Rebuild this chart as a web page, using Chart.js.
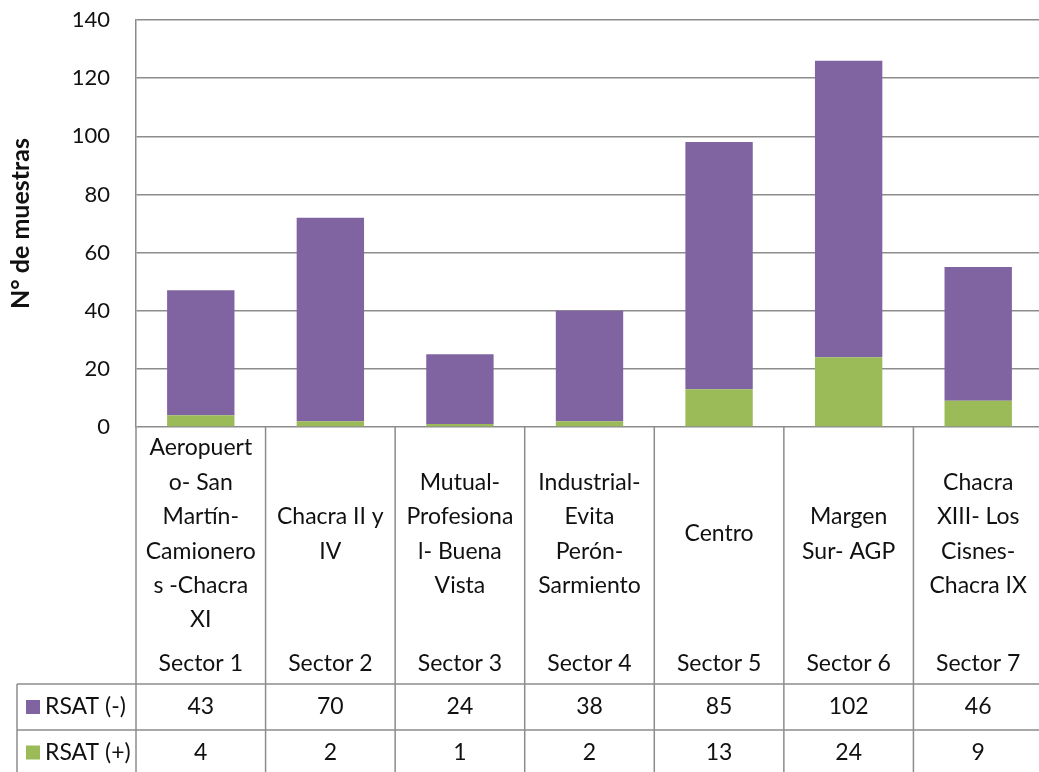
<!DOCTYPE html>
<html>
<head>
<meta charset="utf-8">
<script src="https://cdn.jsdelivr.net/npm/chart.js@4.4.0/dist/chart.umd.min.js"></script>
<style>
  html, body { margin: 0; padding: 0; background: #fff; overflow: hidden; }
  canvas { display: block; }
</style>
</head>
<body>
<canvas id="muestrasChart" width="1046" height="772"></canvas>
<script>
// Data
const sectors = ['Sector 1', 'Sector 2', 'Sector 3', 'Sector 4', 'Sector 5', 'Sector 6', 'Sector 7'];
const zoneLabels = [
    ['Aeropuert', 'o- San', 'Martín-', 'Camionero', 's -Chacra', 'XI'],
    ['Chacra II y', 'IV'],
    ['Mutual-', 'Profesiona', 'l- Buena', 'Vista'],
    ['Industrial-', 'Evita', 'Perón-', 'Sarmiento'],
    ['Centro'],
    ['Margen', 'Sur- AGP'],
    ['Chacra', 'XIII- Los', 'Cisnes-', 'Chacra IX']
];
const seriesNames = ['RSAT (-)', 'RSAT (+)'];
const rsatNeg = [43, 70, 24, 38, 85, 102, 46];
const rsatPos = [4, 2, 1, 2, 13, 24, 9];
const yMax = 140;
const yStep = 20;

const purple = '#8064A2';
const green = '#9BBB59';
const lineColor = '#8c8c8c';
const textColor = '#111111';
const fontFamily = 'Lato, "Open Sans", sans-serif';

// Draws the data table under the plot area (categories, sectors, values)
const dataTablePlugin = {
    id: 'dataTable',
    afterDraw(chart) {
        const ctx = chart.ctx;
        const area = chart.chartArea;
        const xScale = chart.scales.x;
        const colW = (area.right - area.left) / sectors.length;
        const legendLeft = 17;
        const headBottom = area.bottom + 257;
        const row1Bottom = headBottom + 46;
        const row2Bottom = row1Bottom + 45;

        ctx.save();
        ctx.strokeStyle = lineColor;
        ctx.lineWidth = 1.5;

        // vertical column lines
        for (let i = 0; i <= sectors.length; i++) {
            const x = area.left + i * colW;
            ctx.beginPath();
            ctx.moveTo(x, area.bottom);
            ctx.lineTo(x, row2Bottom);
            ctx.stroke();
        }
        // legend column left border
        ctx.beginPath();
        ctx.moveTo(legendLeft, headBottom);
        ctx.lineTo(legendLeft, row2Bottom);
        ctx.stroke();
        // horizontal row lines
        [headBottom, row1Bottom, row2Bottom].forEach(y => {
            ctx.beginPath();
            ctx.moveTo(legendLeft, y);
            ctx.lineTo(area.right, y);
            ctx.stroke();
        });

        ctx.fillStyle = textColor;
        ctx.textAlign = 'center';
        ctx.textBaseline = 'middle';
        ctx.font = '23px ' + fontFamily;

        const lineH = 34.4;
        const labelMid = area.bottom + 107;
        sectors.forEach((sector, i) => {
            const x = xScale.getPixelForValue(i);
            const lines = zoneLabels[i];
            const startY = labelMid - (lines.length - 1) * lineH / 2;
            lines.forEach((line, j) => {
                ctx.fillText(line, x, startY + j * lineH);
            });
            ctx.fillText(sector, x, area.bottom + 237);
            ctx.fillText(String(rsatNeg[i]), x, (headBottom + row1Bottom) / 2);
            ctx.fillText(String(rsatPos[i]), x, (row1Bottom + row2Bottom) / 2);
        });

        // legend keys inside the table
        const rows = [
            { name: seriesNames[0], color: purple, y: (headBottom + row1Bottom) / 2 },
            { name: seriesNames[1], color: green, y: (row1Bottom + row2Bottom) / 2 }
        ];
        ctx.textAlign = 'left';
        rows.forEach(row => {
            ctx.fillStyle = row.color;
            ctx.fillRect(legendLeft + 9, row.y - 7, 14, 14);
            ctx.fillStyle = textColor;
            ctx.fillText(row.name, legendLeft + 28, row.y);
        });
        ctx.restore();
    }
};

const ctx = document.getElementById('muestrasChart').getContext('2d');
const muestrasChart = new Chart(ctx, {
    type: 'bar',
    data: {
        labels: sectors,
        datasets: [
            {
                label: seriesNames[1],
                data: rsatPos,
                backgroundColor: green,
                barPercentage: 0.52,
                categoryPercentage: 1
            },
            {
                label: seriesNames[0],
                data: rsatNeg,
                backgroundColor: purple,
                barPercentage: 0.52,
                categoryPercentage: 1
            }
        ]
    },
    options: {
        responsive: false,
        animation: false,
        devicePixelRatio: 1,
        layout: {
            padding: { left: 0, top: 20, right: 3, bottom: 345 }
        },
        plugins: {
            legend: { display: false },
            tooltip: { enabled: false }
        },
        scales: {
            x: {
                stacked: true,
                display: false
            },
            y: {
                stacked: true,
                min: 0,
                max: yMax,
                afterFit(scale) {
                    scale.width = 136;
                    scale.paddingTop = 0;
                    scale.paddingBottom = 0;
                },
                ticks: {
                    stepSize: yStep,
                    padding: 26,
                    color: textColor,
                    font: { family: fontFamily, size: 22 }
                },
                grid: {
                    color: lineColor,
                    lineWidth: 1.5,
                    drawTicks: false
                },
                border: {
                    display: true,
                    color: lineColor,
                    width: 1.5
                },
                title: {
                    display: true,
                    text: 'N° de muestras',
                    color: textColor,
                    padding: { top: 6, bottom: 0 },
                    font: { family: fontFamily, size: 25, weight: 'bold' }
                }
            }
        }
    },
    plugins: [dataTablePlugin]
});
</script>
</body>
</html>
